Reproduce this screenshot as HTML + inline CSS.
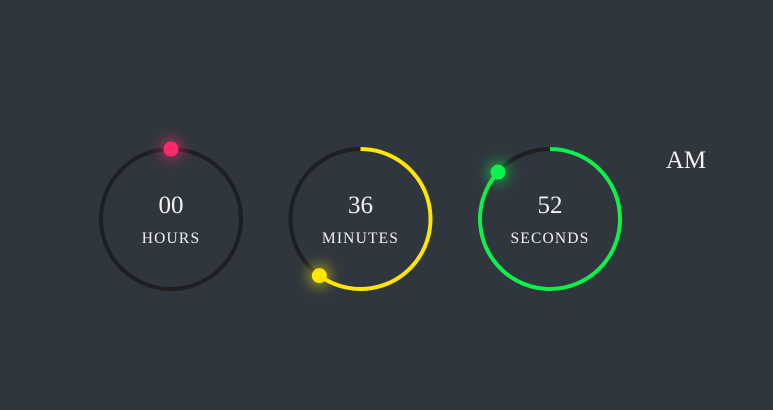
<!DOCTYPE html>
<html><head><meta charset="utf-8">
<style>
html,body{margin:0;padding:0;background:#2f363e;width:773px;height:410px;overflow:hidden}
svg{display:block}
text{font-family:"Liberation Serif",serif;fill:#f2f2f2}
</style></head>
<body>
<svg id="clock" width="773" height="410" viewBox="0 0 773 410">
<defs>
<filter id="glow" x="-200%" y="-200%" width="500%" height="500%"><feGaussianBlur stdDeviation="6"/></filter>
</defs>
<text x="686" y="168" text-anchor="middle" font-size="25">AM</text>
</svg>
<script>
const labels = ['HOURS','MINUTES','SECONDS'];
const values = [0, 36, 52];
const maxima = [12, 60, 60];
const colors = ['#ff2a6d','#ffe600','#0bf24a'];
const display = ['00','36','52'];
const svg = document.getElementById('clock');
const NS = 'http://www.w3.org/2000/svg';
const cx0 = 171, dx = 189.5, cy = 219, r = 70;
function mk(tag, attrs){const e=document.createElementNS(NS,tag);for(const k in attrs)e.setAttribute(k,attrs[k]);svg.appendChild(e);return e;}
labels.forEach((lab,i)=>{
  const cx = cx0 + dx*i;
  const frac = values[i]/maxima[i];
  const ring = mk('circle',{cx:cx,cy:cy,r:r,fill:'none',stroke:'#1d1f22','stroke-width':4});
  
  
  const ang = frac*2*Math.PI;
  const ex = cx + r*Math.sin(ang), ey = cy - r*Math.cos(ang);
  if(frac>0){
    const large = frac>0.5?1:0;
    const arc = mk('path',{d:`M ${cx} ${cy-r} A ${r} ${r} 0 ${large} 1 ${ex} ${ey}`,fill:'none',stroke:colors[i],'stroke-width':4});
    
    
  }
  const g = mk('circle',{cx:ex,cy:ey,r:12,fill:colors[i],opacity:0.45,filter:'url(#glow)'});
  
  
  const d = mk('circle',{cx:ex,cy:ey,r:7.5,fill:colors[i]});
  
  
  const t = mk('text',{x:cx,y:cy-6,'text-anchor':'middle','font-size':25});
  t.textContent = display[i];
  
  
  const l = mk('text',{x:cx,y:cy+24,'text-anchor':'middle','font-size':15.5,'letter-spacing':1.2});
  l.textContent = lab;
  
  
});
</script>
</body></html>
